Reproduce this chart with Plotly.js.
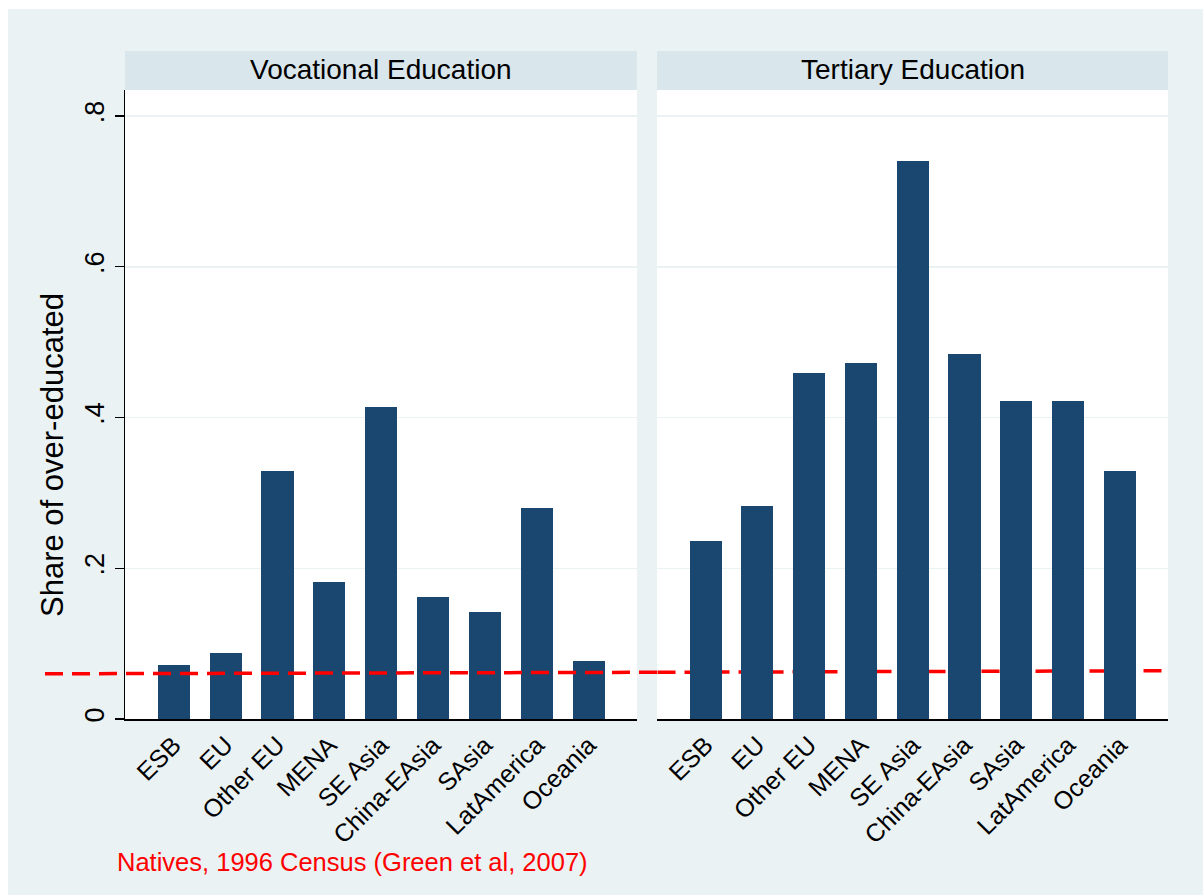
<!DOCTYPE html>
<html>
<head>
<meta charset="utf-8">
<script src="https://cdn.plot.ly/plotly-3.0.1.min.js"></script>
<style>html,body{margin:0;padding:0;background:#fff;}#chart{width:1203px;height:895px;}</style>
</head>
<body>
<div id="chart"></div>
<script>
// ---- data ----
var categories = ["ESB", "EU", "Other EU", "MENA", "SE Asia", "China-EAsia", "SAsia", "LatAmerica", "Oceania"];
var vocational = [0.072, 0.088, 0.329, 0.182, 0.414, 0.162, 0.142, 0.280, 0.077];
var tertiary = [0.236, 0.283, 0.459, 0.472, 0.740, 0.484, 0.422, 0.422, 0.329];
var panelTitles = ["Vocational Education", "Tertiary Education"];
var yTickVals = [0, 0.2, 0.4, 0.6, 0.8];
var yTickText = ["0", ".2", ".4", ".6", ".8"];
var nativesLine = [0.060, 0.062, 0.064]; // left end, panel gap, right end
var yTitle = "Share of over-educated";
var caption = "Natives, 1996 Census (Green et al, 2007)";

// ---- style ----
var FONT = "Liberation Sans, Arial, Helvetica, sans-serif";
var BAR = "#1a476f";
var BG = "#eaf2f3";
var STRIP = "#d9e6eb";

var traces = [
  {type: "bar", x: categories, y: vocational, xaxis: "x", yaxis: "y",
   marker: {color: BAR, line: {width: 0}}, width: 0.62, hoverinfo: "x+y"},
  {type: "bar", x: categories, y: tertiary, xaxis: "x2", yaxis: "y",
   marker: {color: BAR, line: {width: 0}}, width: 0.62, hoverinfo: "x+y"}
];

var W = 1203, H = 895, L = 125, R = 35, T = 90, B = 176;
var pw = W - L - R, ph = H - T - B;
function px(x) { return (x - L) / pw; }
function py(y) { return (H - B - y) / ph; }

var xCommon = {
  type: "category", range: [-0.94, 8.93], showgrid: false, zeroline: false,
  showline: true, linecolor: "#000", linewidth: 1.5, ticks: "",
  tickangle: -45, tickfont: {family: FONT, size: 25, color: "#000"},
  fixedrange: true
};

var layout = {
  width: W, height: H,
  margin: {l: L, r: R, t: T, b: B, pad: 0},
  paper_bgcolor: BG, plot_bgcolor: "#fff",
  showlegend: false, bargap: 0,
  font: {family: FONT, color: "#000"},
  xaxis: Object.assign({}, xCommon, {domain: [0, px(637)], anchor: "y"}),
  xaxis2: Object.assign({}, xCommon, {domain: [px(657), 1], anchor: "y"}),
  yaxis: {
    range: [0, 0.8345], tickvals: yTickVals, ticktext: yTickText,
    showgrid: true, gridcolor: BG, gridwidth: 1.5, zeroline: false,
    showline: true, linecolor: "#000", linewidth: 1.5,
    ticks: "outside", ticklen: 9, tickwidth: 1.2, tickcolor: "#000",
    tickangle: -90, tickfont: {family: FONT, size: 27, color: "#000"},
    fixedrange: true, anchor: "x"
  },
  shapes: [
    // strips
    {type: "rect", xref: "paper", yref: "paper", x0: 0, x1: px(637), y0: 1, y1: py(51),
     fillcolor: STRIP, line: {width: 0}, layer: "above"},
    {type: "rect", xref: "paper", yref: "paper", x0: px(657), x1: 1, y0: 1, y1: py(51),
     fillcolor: STRIP, line: {width: 0}, layer: "above"},
    // white border left and top
    {type: "rect", xref: "paper", yref: "paper", x0: px(-5), x1: px(8), y0: py(900), y1: py(-5),
     fillcolor: "#fff", line: {width: 0}, layer: "above"},
    {type: "rect", xref: "paper", yref: "paper", x0: px(-5), x1: px(1210), y0: py(9), y1: py(-5),
     fillcolor: "#fff", line: {width: 0}, layer: "above"},
    // natives line: over bars in left panel, under bars in right panel
    {type: "line", xref: "paper", yref: "y", x0: px(45), x1: px(657),
     y0: nativesLine[0], y1: nativesLine[1],
     line: {color: "#ff0000", width: 3.5, dash: "18px,9px"}, layer: "above"},
    {type: "line", xref: "x2", yref: "y", x0: -0.93, x1: 8.82,
     y0: nativesLine[1], y1: nativesLine[2],
     line: {color: "#ff0000", width: 3.5, dash: "18px,9px"}, layer: "below"}
  ],
  annotations: [
    {text: panelTitles[0], xref: "paper", yref: "paper", x: px(381), y: py(70),
     xanchor: "center", yanchor: "middle", showarrow: false,
     font: {family: FONT, size: 28, color: "#000"}},
    {text: panelTitles[1], xref: "paper", yref: "paper", x: px(912.5), y: py(70),
     xanchor: "center", yanchor: "middle", showarrow: false,
     font: {family: FONT, size: 28, color: "#000"}},
    {text: yTitle, xref: "paper", yref: "paper", x: px(52), y: py(455),
     xanchor: "center", yanchor: "middle", textangle: -90, showarrow: false,
     font: {family: FONT, size: 31, color: "#000"}},
    {text: caption, xref: "paper", yref: "paper", x: px(115), y: py(862),
     xanchor: "left", yanchor: "middle", showarrow: false,
     font: {family: FONT, size: 25.5, color: "#ff0000"}}
  ]
};

Plotly.newPlot("chart", traces, layout, {displayModeBar: false, staticPlot: true});
</script>
</body>
</html>
